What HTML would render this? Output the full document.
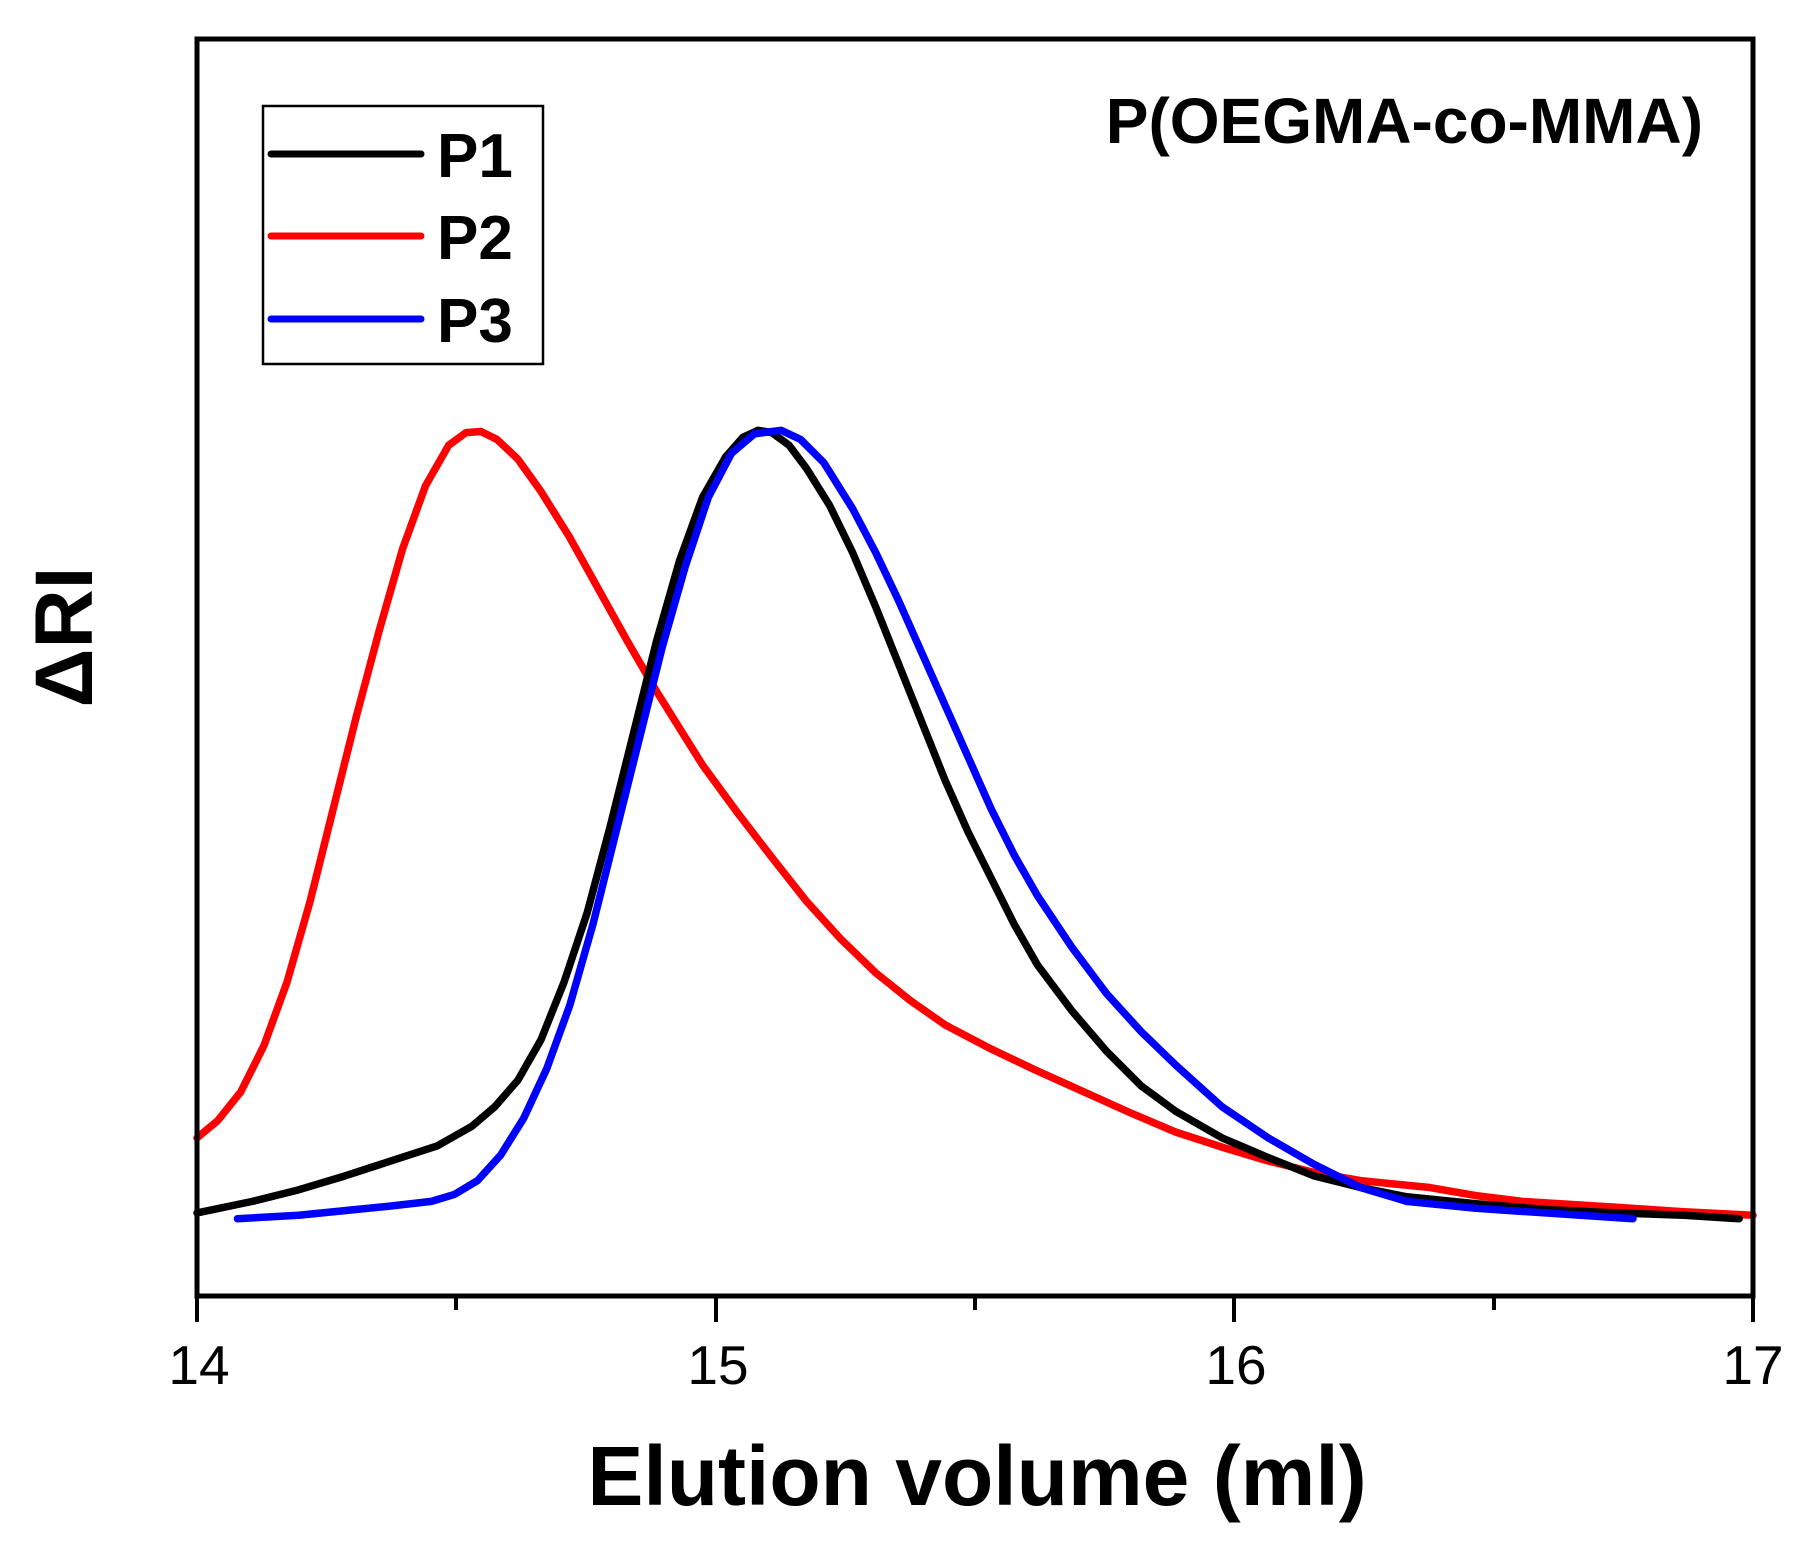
<!DOCTYPE html>
<html><head><meta charset="utf-8"><style>html,body{margin:0;padding:0;background:#fff}svg{display:block}</style></head>
<body>
<svg width="1808" height="1547" viewBox="0 0 1808 1547" xmlns="http://www.w3.org/2000/svg" font-family="Liberation Sans, Arial, sans-serif">
<rect width="1808" height="1547" fill="#fff"/>
<g transform="translate(197 39) scale(1.1543) translate(-172 -33)" fill="none" stroke-width="6.5" stroke-linejoin="round" stroke-linecap="round">
<polyline stroke="#ff0000" points="172,985 190,970 210,945 230,905 250,850 270,780 290,700 310,620 330,545 350,475 370,420 390,385 405,374 418,373 432,380 450,397 470,425 495,465 520,510 545,555 570,598 590,630 610,662 640,703 670,742 700,780 730,813 760,842 790,866 820,887 860,908 900,927 940,945 980,963 1020,980 1060,993 1100,1005 1140,1015 1180,1022 1240,1028 1280,1035 1320,1040 1400,1045 1460,1049 1520,1052"/>
<polyline stroke="#000" points="172,1050 220,1040 260,1030 300,1018 340,1005 380,992 410,975 430,958 450,935 470,900 490,850 510,790 530,715 550,635 570,555 590,485 610,430 630,395 645,378 658,372 670,374 685,385 700,405 720,437 740,478 760,525 780,575 800,625 820,675 840,720 860,760 880,800 900,835 930,875 960,910 990,940 1020,962 1060,985 1100,1002 1140,1018 1180,1028 1220,1036 1280,1042 1340,1047 1400,1050 1460,1052 1508,1055"/>
<polyline stroke="#0000ff" points="207,1055 260,1052 300,1048 340,1044 375,1040 395,1034 415,1022 435,1000 455,968 475,925 495,870 515,800 535,720 555,640 575,560 595,490 615,430 635,392 655,375 678,372 695,380 715,400 740,440 760,478 780,520 800,565 820,610 840,655 860,700 880,740 900,775 930,820 960,860 990,893 1020,922 1060,958 1100,985 1140,1008 1180,1028 1220,1040 1280,1046 1340,1050 1416,1055"/>
</g>
<rect x="197" y="39" width="1556" height="1257" fill="none" stroke="#000" stroke-width="5"/>
<g stroke="#000" stroke-width="4">
<line x1="197" y1="1296" x2="197" y2="1322"/><line x1="716" y1="1296" x2="716" y2="1322"/><line x1="1234" y1="1296" x2="1234" y2="1322"/><line x1="1753" y1="1296" x2="1753" y2="1322"/>
<line x1="456" y1="1296" x2="456" y2="1310"/><line x1="975" y1="1296" x2="975" y2="1310"/><line x1="1494" y1="1296" x2="1494" y2="1310"/>
</g>
<g font-size="55" text-anchor="middle" fill="#000">
<text x="199" y="1384">14</text><text x="718" y="1384">15</text><text x="1236" y="1384">16</text><text x="1753" y="1384">17</text>
</g>
<text x="977" y="1505" font-size="84" font-weight="bold" text-anchor="middle">Elution volume (ml)</text>
<text transform="translate(92 637) rotate(-90)" font-size="82" font-weight="bold" text-anchor="middle">ΔRI</text>
<text x="1703" y="143" font-size="64" font-weight="bold" text-anchor="end">P(OEGMA-co-MMA)</text>
<rect x="263" y="106" width="280" height="258" fill="none" stroke="#000" stroke-width="2.5"/>
<g stroke-width="7" stroke-linecap="round">
<line x1="271" y1="154" x2="421" y2="154" stroke="#000"/>
<line x1="271" y1="236" x2="421" y2="236" stroke="#ff0000"/>
<line x1="271" y1="319" x2="421" y2="319" stroke="#0000ff"/>
</g>
<g font-size="62" font-weight="bold">
<text x="437" y="177">P1</text><text x="437" y="259">P2</text><text x="437" y="342">P3</text>
</g>
</svg>
</body></html>
